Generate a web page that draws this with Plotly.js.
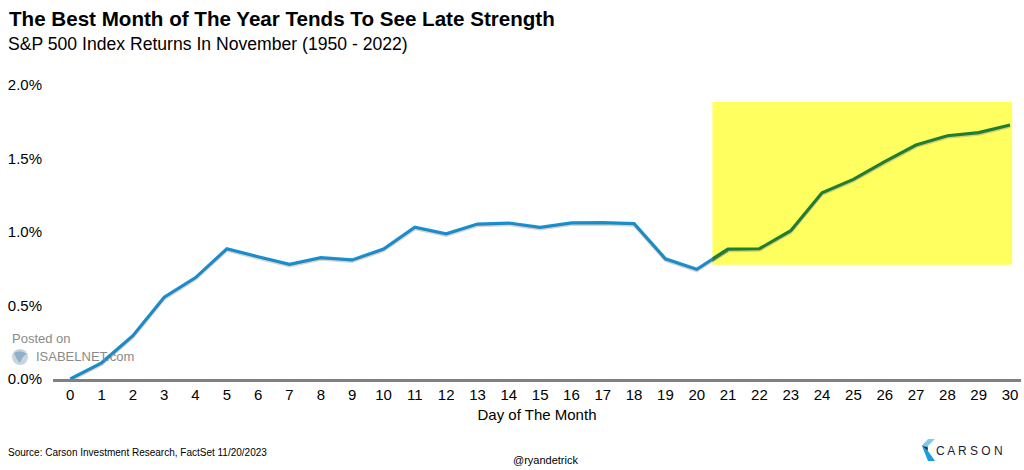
<!DOCTYPE html>
<html><head><meta charset="utf-8">
<script src="https://cdn.plot.ly/plotly-3.0.1.min.js"></script>
<style>html,body{margin:0;padding:0;background:#fff}#chart{width:1024px;height:470px}</style>
</head><body><div id="chart"></div>
<script>
const days = [0,1,2,3,4,5,6,7,8,9,10,11,12,13,14,15,16,17,18,19,20,21,22,23,24,25,26,27,28,29,30];
const returns = [0,0.11,0.295,0.556,0.69,0.886,0.832,0.78,0.825,0.81,0.884,1.032,0.988,1.054,1.061,1.032,1.062,1.064,1.057,0.818,0.746,0.884,0.886,1.009,1.267,1.358,1.478,1.592,1.655,1.676,1.728];
const yTicks = [0,0.5,1.0,1.5,2.0];
const yTickLabels = ["0.0%","0.5%","1.0%","1.5%","2.0%"];
const highlightStart = 20.5, highlightEnd = 30.07, highlightLow = 0.778, highlightHigh = 1.884;

const xRange = [-0.55, 30.35];
const domStart = (highlightStart - xRange[0]) / (xRange[1] - xRange[0]);
const yRange = [0, 2.0];
const shadowShift = 1.6/147;

const blueDays = days.filter(d => d <= 21), blueVals = returns.slice(0, blueDays.length);
const greenDays = days.filter(d => d >= 20), greenVals = returns.slice(20);

const traces = [
  {x: blueDays, y: blueVals, xaxis:'x', yaxis:'y3', mode:'lines', line:{color:'rgba(100,100,100,0.28)', width:3}, hoverinfo:'skip', cliponaxis:false},
  {x: blueDays, y: blueVals, xaxis:'x', yaxis:'y', mode:'lines', line:{color:'#1193d8', width:3.2}, cliponaxis:false},
  {x: greenDays, y: greenVals, xaxis:'x2', yaxis:'y3', mode:'lines', line:{color:'rgba(100,100,100,0.28)', width:3}, hoverinfo:'skip'},
  {x: greenDays, y: greenVals, xaxis:'x2', yaxis:'y', mode:'lines', line:{color:'#17812e', width:3.2}}
];

const font = 'Liberation Sans, Arial, sans-serif';
const layout = {
  width:1024, height:470,
  margin:{l:53, r:3, t:85, b:91},
  paper_bgcolor:'#fff', plot_bgcolor:'rgba(0,0,0,0)',
  showlegend:false,
  font:{family:font, color:'#000'},
  xaxis:{range:xRange, domain:[0,1], tickvals:days, ticktext:days.map(String), showgrid:false, zeroline:false,
    showline:true, linecolor:'#808080', linewidth:2.5, ticks:'', tickfont:{size:15, family:font, color:'#000'},
    title:{text:'Day of The Month', font:{size:15, family:font, color:'#000'}, standoff:8}, fixedrange:true},
  xaxis2:{range:[highlightStart, xRange[1]], domain:[domStart,1], anchor:'y', visible:false, showgrid:false, zeroline:false, fixedrange:true},
  yaxis:{range:yRange, tickvals:yTicks, ticktext:yTickLabels, showgrid:false, zeroline:false, showline:false,
    ticks:'', tickfont:{size:15, family:font, color:'#000'}, ticklabelstandoff:10, fixedrange:true},
  yaxis3:{range:[yRange[0]+shadowShift, yRange[1]+shadowShift], overlaying:'y', visible:false, fixedrange:true},
  shapes:[
    {type:'rect', xref:'x', yref:'y', x0:highlightStart, x1:highlightEnd, y0:highlightLow, y1:highlightHigh,
     fillcolor:'#ffff60', line:{width:0}, layer:'below'}
  ],
  annotations:[
    {text:'<b>The Best Month of The Year Tends To See Late Strength</b>', xref:'paper', yref:'paper', x:0, y:0, xanchor:'left', yanchor:'middle',
     xshift:-46, yshift:361, showarrow:false, font:{size:20.6, family:font, color:'#000'}},
    {text:'S&P 500 Index Returns In November (1950 - 2022)', xref:'paper', yref:'paper', x:0, y:0, xanchor:'left', yanchor:'middle',
     xshift:-47, yshift:335, showarrow:false, font:{size:17.6, family:font, color:'#000'}},
    {text:'Source: Carson Investment Research, FactSet 11/20/2023', xref:'paper', yref:'paper', x:0, y:0, xanchor:'left', yanchor:'middle',
     xshift:-47, yshift:-73, showarrow:false, font:{size:10, family:font, color:'#000'}},
    {text:'@ryandetrick', xref:'paper', yref:'paper', x:0, y:0, xanchor:'center', yanchor:'middle',
     xshift:492, yshift:-81, showarrow:false, font:{size:11, family:font, color:'#000'}},
    {text:'C A R S O N', xref:'paper', yref:'paper', x:1, y:0, xanchor:'left', yanchor:'middle',
     xshift:-87, yshift:-72, showarrow:false, font:{size:12, family:font, color:'#1a2233'}},
    {text:'Posted on', xref:'paper', yref:'paper', x:0, y:0, xanchor:'left', yanchor:'middle',
     xshift:-43, yshift:41, showarrow:false, font:{size:13, family:font, color:'#8a8a8a'}},
    {text:'ISABELNET.com', xref:'paper', yref:'paper', x:0, y:0, xanchor:'left', yanchor:'middle',
     xshift:-19, yshift:23, showarrow:false, font:{size:13, family:font, color:'#8a8a8a'}}
  ]
};

Plotly.newPlot('chart', traces, layout, {displayModeBar:false, staticPlot:true}).then(gd => {
  const svgs = gd.querySelectorAll('svg.main-svg');
  const svg = svgs[svgs.length-1];
  const ns = 'http://www.w3.org/2000/svg';
  const g = document.createElementNS(ns,'g');
  g.innerHTML =
    '<polygon points="927,441 922,446 928,451" fill="#1b2a3a"/>' +
    '<polygon points="928,439 935,439 927,447 922,446" fill="#7ecbf2"/>' +
    '<polygon points="922,446 928,451 935,461 928,461" fill="#1d9be0"/>' +
    '<circle cx="20" cy="357" r="8" fill="#c8d4de"/>' +
    '<path d="M14,353 Q20,349 27,354 Q22,356 20,363 Q16,359 14,353Z" fill="#8fb0c8"/>';
  svg.appendChild(g);
});
</script></body></html>
